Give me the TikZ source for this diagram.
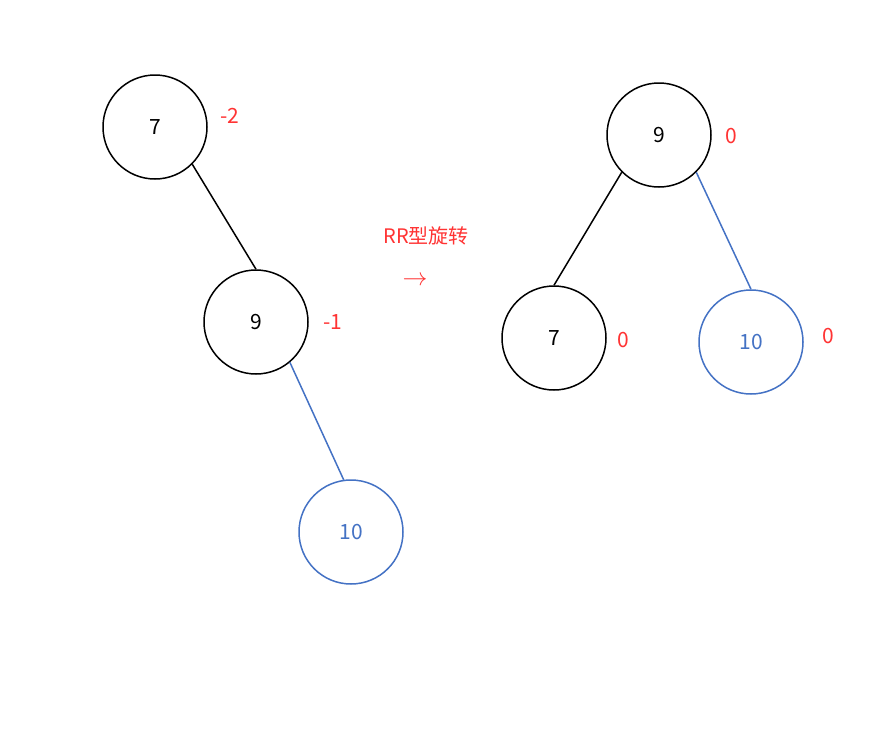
\documentclass[tikz,border=0pt]{standalone}
\usepackage{fontspec}
\setmainfont{Noto Sans CJK SC}
\usetikzlibrary{positioning}
\definecolor{treeblue}{HTML}{4472C4}
\definecolor{balred}{HTML}{FF3333}

\begin{document}
\begin{tikzpicture}[x=1pt, y=-1pt,
    treenode/.style={circle, draw, line width=1.5pt, minimum size=104pt, inner sep=0pt, font=\fontsize{21}{25}\selectfont},
    bluenode/.style={treenode, draw=treeblue, text=treeblue},
    bal/.style={text=balred, font=\fontsize{21}{25}\selectfont},
    edge/.style={line width=1.5pt}]
            \useasboundingbox (0,0) rectangle (896,747);
            % left tree
            \node[treenode] (l7) at (155,127) {7};
            \node[treenode] (l9) at (256,322) {9};
            \node[bluenode] (l10) at (351,532) {10};
            \node[bal] (bl7) at (230,116) {-2};
            \node[bal] (bl9) at (333,322) {-1};

            \draw[edge] (l7.-45) -- (l9.north);
            \draw[edge, treeblue] (l9.-50) -- (l10.98);

            % rotation
            \node[text=balred, font=\fontsize{20}{24}\selectfont] (rot) at (426,236) {RR型旋转};
            \node[text=balred, font=\fontsize{26}{30}\selectfont] (arr) at (415,281) {$\rightarrow$};

            % right tree
            \node[treenode] (r9) at (659,135) {9};
            \node[treenode] (r7) at (554,338) {7};
            \node[bluenode] (r10) at (751,342) {10};
            \node[bal] (br9) at (731,136) {0};
            \node[bal] (br7) at (623,340) {0};
            \node[bal] (br10) at (828,336) {0};

            \draw[edge] (r9.-135) -- (r7.north);
            \draw[edge, treeblue] (r9.-45) -- (r10.north);
        \end{tikzpicture}
\end{document}
